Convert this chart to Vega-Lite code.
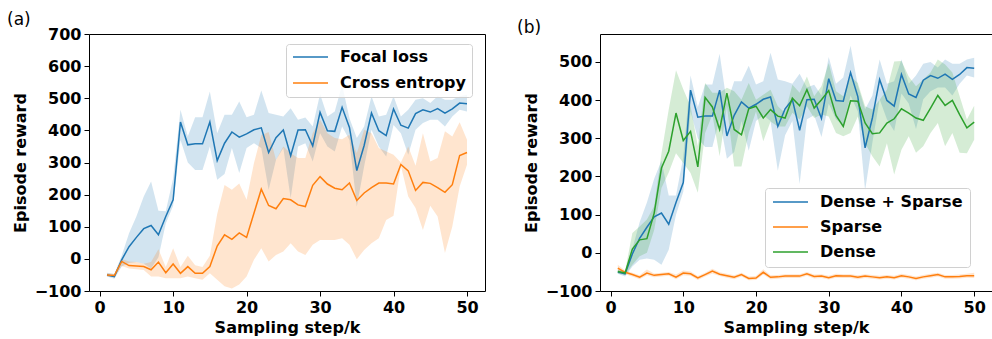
{
  "$schema": "https://vega.github.io/schema/vega-lite/v6.json",
  "autosize": {"type": "pad"},
  "padding": {"left": 6, "top": 10, "right": 0, "bottom": 5},
  "bounds": "flush",
  "spacing": 115,
  "background": "white",
  "datasets": {
    "a": [
      {"s":"Focal loss","x":1,"y":-50,"lo":-55,"hi":-43},{"s":"Focal loss","x":2,"y":-55,"lo":-62,"hi":-47},{"s":"Focal loss","x":3,"y":-3,"lo":-24,"hi":10},{"s":"Focal loss","x":4,"y":38,"lo":-13,"hi":80},{"s":"Focal loss","x":5,"y":67,"lo":-10,"hi":132},{"s":"Focal loss","x":6,"y":94,"lo":-15,"hi":194},{"s":"Focal loss","x":7,"y":104,"lo":-30,"hi":241},{"s":"Focal loss","x":8,"y":75,"lo":5,"hi":150},{"s":"Focal loss","x":9,"y":132,"lo":110,"hi":148},{"s":"Focal loss","x":10,"y":184,"lo":165,"hi":250},
      {"s":"Focal loss","x":11,"y":426,"lo":370,"hi":464},{"s":"Focal loss","x":12,"y":355,"lo":300,"hi":381},{"s":"Focal loss","x":13,"y":358,"lo":277,"hi":441},{"s":"Focal loss","x":14,"y":358,"lo":277,"hi":441},{"s":"Focal loss","x":15,"y":426,"lo":350,"hi":521},{"s":"Focal loss","x":16,"y":306,"lo":246,"hi":391},{"s":"Focal loss","x":17,"y":360,"lo":264,"hi":449},{"s":"Focal loss","x":18,"y":395,"lo":345,"hi":449},{"s":"Focal loss","x":19,"y":379,"lo":267,"hi":490},{"s":"Focal loss","x":20,"y":389,"lo":345,"hi":441},
      {"s":"Focal loss","x":21,"y":402,"lo":360,"hi":449},{"s":"Focal loss","x":22,"y":408,"lo":345,"hi":524},{"s":"Focal loss","x":23,"y":331,"lo":215,"hi":454},{"s":"Focal loss","x":24,"y":377,"lo":308,"hi":449},{"s":"Focal loss","x":25,"y":401,"lo":345,"hi":443},{"s":"Focal loss","x":26,"y":321,"lo":189,"hi":469},{"s":"Focal loss","x":27,"y":401,"lo":350,"hi":433},{"s":"Focal loss","x":28,"y":402,"lo":360,"hi":440},{"s":"Focal loss","x":29,"y":352,"lo":303,"hi":412},{"s":"Focal loss","x":30,"y":456,"lo":391,"hi":513},
      {"s":"Focal loss","x":31,"y":399,"lo":350,"hi":443},{"s":"Focal loss","x":32,"y":397,"lo":334,"hi":459},{"s":"Focal loss","x":33,"y":472,"lo":412,"hi":542},{"s":"Focal loss","x":34,"y":409,"lo":370,"hi":438},{"s":"Focal loss","x":35,"y":275,"lo":163,"hi":376},{"s":"Focal loss","x":36,"y":353,"lo":288,"hi":412},{"s":"Focal loss","x":37,"y":454,"lo":402,"hi":506},{"s":"Focal loss","x":38,"y":399,"lo":350,"hi":443},{"s":"Focal loss","x":39,"y":384,"lo":319,"hi":449},{"s":"Focal loss","x":40,"y":467,"lo":417,"hi":506},
      {"s":"Focal loss","x":41,"y":416,"lo":391,"hi":443},{"s":"Focal loss","x":42,"y":407,"lo":324,"hi":464},{"s":"Focal loss","x":43,"y":452,"lo":402,"hi":495},{"s":"Focal loss","x":44,"y":464,"lo":423,"hi":500},{"s":"Focal loss","x":45,"y":457,"lo":433,"hi":485},{"s":"Focal loss","x":46,"y":468,"lo":433,"hi":506},{"s":"Focal loss","x":47,"y":454,"lo":412,"hi":495},{"s":"Focal loss","x":48,"y":467,"lo":443,"hi":495},{"s":"Focal loss","x":49,"y":485,"lo":464,"hi":506},{"s":"Focal loss","x":50,"y":483,"lo":459,"hi":511},
      {"s":"Cross entropy","x":1,"y":-50,"lo":-55,"hi":-45},{"s":"Cross entropy","x":2,"y":-52,"lo":-57,"hi":-47},{"s":"Cross entropy","x":3,"y":-8,"lo":-22,"hi":0},{"s":"Cross entropy","x":4,"y":-21,"lo":-30,"hi":-8},{"s":"Cross entropy","x":5,"y":-22,"lo":-32,"hi":-10},{"s":"Cross entropy","x":6,"y":-24,"lo":-35,"hi":-15},{"s":"Cross entropy","x":7,"y":-34,"lo":-55,"hi":-10},{"s":"Cross entropy","x":8,"y":-10,"lo":-55,"hi":30},{"s":"Cross entropy","x":9,"y":-43,"lo":-60,"hi":-25},{"s":"Cross entropy","x":10,"y":-16,"lo":-60,"hi":33},
      {"s":"Cross entropy","x":11,"y":-45,"lo":-60,"hi":-25},{"s":"Cross entropy","x":12,"y":-24,"lo":-55,"hi":10},{"s":"Cross entropy","x":13,"y":-45,"lo":-60,"hi":-20},{"s":"Cross entropy","x":14,"y":-45,"lo":-65,"hi":-25},{"s":"Cross entropy","x":15,"y":-24,"lo":-45,"hi":10},{"s":"Cross entropy","x":16,"y":40,"lo":-65,"hi":140},{"s":"Cross entropy","x":17,"y":75,"lo":-85,"hi":230},{"s":"Cross entropy","x":18,"y":61,"lo":-92,"hi":215},{"s":"Cross entropy","x":19,"y":81,"lo":-80,"hi":235},{"s":"Cross entropy","x":20,"y":67,"lo":-55,"hi":184},
      {"s":"Cross entropy","x":21,"y":142,"lo":-3,"hi":298},{"s":"Cross entropy","x":22,"y":217,"lo":33,"hi":385},{"s":"Cross entropy","x":23,"y":166,"lo":-8,"hi":395},{"s":"Cross entropy","x":24,"y":156,"lo":12,"hi":308},{"s":"Cross entropy","x":25,"y":188,"lo":23,"hi":350},{"s":"Cross entropy","x":26,"y":184,"lo":49,"hi":329},{"s":"Cross entropy","x":27,"y":168,"lo":23,"hi":314},{"s":"Cross entropy","x":28,"y":163,"lo":12,"hi":314},{"s":"Cross entropy","x":29,"y":229,"lo":44,"hi":391},{"s":"Cross entropy","x":30,"y":256,"lo":59,"hi":433},
      {"s":"Cross entropy","x":31,"y":233,"lo":59,"hi":391},{"s":"Cross entropy","x":32,"y":220,"lo":59,"hi":376},{"s":"Cross entropy","x":33,"y":215,"lo":64,"hi":372},{"s":"Cross entropy","x":34,"y":236,"lo":44,"hi":386},{"s":"Cross entropy","x":35,"y":182,"lo":-1,"hi":329},{"s":"Cross entropy","x":36,"y":205,"lo":28,"hi":402},{"s":"Cross entropy","x":37,"y":222,"lo":49,"hi":391},{"s":"Cross entropy","x":38,"y":236,"lo":64,"hi":345},{"s":"Cross entropy","x":39,"y":236,"lo":121,"hi":334},{"s":"Cross entropy","x":40,"y":233,"lo":134,"hi":324},
      {"s":"Cross entropy","x":41,"y":294,"lo":290,"hi":300},{"s":"Cross entropy","x":42,"y":274,"lo":194,"hi":350},{"s":"Cross entropy","x":43,"y":213,"lo":158,"hi":290},{"s":"Cross entropy","x":44,"y":238,"lo":90,"hi":391},{"s":"Cross entropy","x":45,"y":235,"lo":165,"hi":303},{"s":"Cross entropy","x":46,"y":222,"lo":132,"hi":314},{"s":"Cross entropy","x":47,"y":207,"lo":18,"hi":397},{"s":"Cross entropy","x":48,"y":231,"lo":101,"hi":381},{"s":"Cross entropy","x":49,"y":322,"lo":225,"hi":425},{"s":"Cross entropy","x":50,"y":331,"lo":293,"hi":371}
    ],
    "b": [
      {"s":"Dense + Sparse","x":1,"y":-50,"lo":-55,"hi":-43},{"s":"Dense + Sparse","x":2,"y":-55,"lo":-62,"hi":-47},{"s":"Dense + Sparse","x":3,"y":-3,"lo":-36,"hi":10},{"s":"Dense + Sparse","x":4,"y":38,"lo":-18,"hi":80},{"s":"Dense + Sparse","x":5,"y":67,"lo":-15,"hi":132},{"s":"Dense + Sparse","x":6,"y":94,"lo":-18,"hi":194},{"s":"Dense + Sparse","x":7,"y":104,"lo":-31,"hi":241},{"s":"Dense + Sparse","x":8,"y":75,"lo":8,"hi":150},{"s":"Dense + Sparse","x":9,"y":132,"lo":100,"hi":150},{"s":"Dense + Sparse","x":10,"y":184,"lo":160,"hi":250},
      {"s":"Dense + Sparse","x":11,"y":426,"lo":370,"hi":464},{"s":"Dense + Sparse","x":12,"y":355,"lo":300,"hi":381},{"s":"Dense + Sparse","x":13,"y":358,"lo":277,"hi":441},{"s":"Dense + Sparse","x":14,"y":358,"lo":277,"hi":441},{"s":"Dense + Sparse","x":15,"y":426,"lo":350,"hi":521},{"s":"Dense + Sparse","x":16,"y":306,"lo":246,"hi":391},{"s":"Dense + Sparse","x":17,"y":360,"lo":264,"hi":449},{"s":"Dense + Sparse","x":18,"y":395,"lo":345,"hi":449},{"s":"Dense + Sparse","x":19,"y":379,"lo":267,"hi":490},{"s":"Dense + Sparse","x":20,"y":389,"lo":345,"hi":441},
      {"s":"Dense + Sparse","x":21,"y":402,"lo":360,"hi":449},{"s":"Dense + Sparse","x":22,"y":408,"lo":345,"hi":524},{"s":"Dense + Sparse","x":23,"y":331,"lo":215,"hi":454},{"s":"Dense + Sparse","x":24,"y":377,"lo":308,"hi":449},{"s":"Dense + Sparse","x":25,"y":401,"lo":345,"hi":443},{"s":"Dense + Sparse","x":26,"y":321,"lo":180,"hi":469},{"s":"Dense + Sparse","x":27,"y":401,"lo":350,"hi":433},{"s":"Dense + Sparse","x":28,"y":402,"lo":360,"hi":440},{"s":"Dense + Sparse","x":29,"y":352,"lo":303,"hi":412},{"s":"Dense + Sparse","x":30,"y":456,"lo":391,"hi":513},
      {"s":"Dense + Sparse","x":31,"y":399,"lo":350,"hi":443},{"s":"Dense + Sparse","x":32,"y":397,"lo":334,"hi":459},{"s":"Dense + Sparse","x":33,"y":472,"lo":412,"hi":542},{"s":"Dense + Sparse","x":34,"y":409,"lo":370,"hi":438},{"s":"Dense + Sparse","x":35,"y":275,"lo":163,"hi":376},{"s":"Dense + Sparse","x":36,"y":353,"lo":288,"hi":412},{"s":"Dense + Sparse","x":37,"y":454,"lo":402,"hi":506},{"s":"Dense + Sparse","x":38,"y":399,"lo":350,"hi":443},{"s":"Dense + Sparse","x":39,"y":384,"lo":319,"hi":449},{"s":"Dense + Sparse","x":40,"y":467,"lo":417,"hi":506},
      {"s":"Dense + Sparse","x":41,"y":416,"lo":391,"hi":443},{"s":"Dense + Sparse","x":42,"y":407,"lo":324,"hi":464},{"s":"Dense + Sparse","x":43,"y":452,"lo":402,"hi":495},{"s":"Dense + Sparse","x":44,"y":464,"lo":423,"hi":500},{"s":"Dense + Sparse","x":45,"y":457,"lo":433,"hi":485},{"s":"Dense + Sparse","x":46,"y":468,"lo":433,"hi":506},{"s":"Dense + Sparse","x":47,"y":454,"lo":412,"hi":495},{"s":"Dense + Sparse","x":48,"y":467,"lo":443,"hi":495},{"s":"Dense + Sparse","x":49,"y":485,"lo":464,"hi":506},{"s":"Dense + Sparse","x":50,"y":483,"lo":459,"hi":511},
      {"s":"Sparse","x":1,"y":-40,"lo":-47,"hi":-31},{"s":"Sparse","x":2,"y":-51,"lo":-56,"hi":-46},{"s":"Sparse","x":3,"y":-57,"lo":-62,"hi":-52},{"s":"Sparse","x":4,"y":-64,"lo":-69,"hi":-59},{"s":"Sparse","x":5,"y":-53,"lo":-59,"hi":-44},{"s":"Sparse","x":6,"y":-59,"lo":-64,"hi":-54},{"s":"Sparse","x":7,"y":-57,"lo":-62,"hi":-52},{"s":"Sparse","x":8,"y":-55,"lo":-60,"hi":-50},{"s":"Sparse","x":9,"y":-64,"lo":-69,"hi":-57},{"s":"Sparse","x":10,"y":-53,"lo":-59,"hi":-46},
      {"s":"Sparse","x":11,"y":-55,"lo":-60,"hi":-49},{"s":"Sparse","x":12,"y":-66,"lo":-71,"hi":-61},{"s":"Sparse","x":13,"y":-57,"lo":-62,"hi":-52},{"s":"Sparse","x":14,"y":-48,"lo":-54,"hi":-42},{"s":"Sparse","x":15,"y":-56,"lo":-61,"hi":-51},{"s":"Sparse","x":16,"y":-60,"lo":-65,"hi":-55},{"s":"Sparse","x":17,"y":-64,"lo":-69,"hi":-59},{"s":"Sparse","x":18,"y":-57,"lo":-62,"hi":-52},{"s":"Sparse","x":19,"y":-67,"lo":-72,"hi":-62},{"s":"Sparse","x":20,"y":-66,"lo":-71,"hi":-61},
      {"s":"Sparse","x":21,"y":-51,"lo":-57,"hi":-43},{"s":"Sparse","x":22,"y":-64,"lo":-69,"hi":-59},{"s":"Sparse","x":23,"y":-63,"lo":-68,"hi":-58},{"s":"Sparse","x":24,"y":-61,"lo":-66,"hi":-56},{"s":"Sparse","x":25,"y":-61,"lo":-66,"hi":-56},{"s":"Sparse","x":26,"y":-61,"lo":-66,"hi":-56},{"s":"Sparse","x":27,"y":-55,"lo":-60,"hi":-50},{"s":"Sparse","x":28,"y":-62,"lo":-67,"hi":-57},{"s":"Sparse","x":29,"y":-61,"lo":-66,"hi":-56},{"s":"Sparse","x":30,"y":-65,"lo":-70,"hi":-60},
      {"s":"Sparse","x":31,"y":-60,"lo":-65,"hi":-55},{"s":"Sparse","x":32,"y":-61,"lo":-66,"hi":-56},{"s":"Sparse","x":33,"y":-61,"lo":-66,"hi":-56},{"s":"Sparse","x":34,"y":-64,"lo":-69,"hi":-59},{"s":"Sparse","x":35,"y":-61,"lo":-66,"hi":-56},{"s":"Sparse","x":36,"y":-63,"lo":-68,"hi":-58},{"s":"Sparse","x":37,"y":-65,"lo":-70,"hi":-60},{"s":"Sparse","x":38,"y":-63,"lo":-68,"hi":-58},{"s":"Sparse","x":39,"y":-65,"lo":-70,"hi":-60},{"s":"Sparse","x":40,"y":-60,"lo":-65,"hi":-55},
      {"s":"Sparse","x":41,"y":-63,"lo":-68,"hi":-58},{"s":"Sparse","x":42,"y":-67,"lo":-72,"hi":-62},{"s":"Sparse","x":43,"y":-63,"lo":-68,"hi":-58},{"s":"Sparse","x":44,"y":-60,"lo":-65,"hi":-55},{"s":"Sparse","x":45,"y":-57,"lo":-62,"hi":-52},{"s":"Sparse","x":46,"y":-63,"lo":-68,"hi":-58},{"s":"Sparse","x":47,"y":-63,"lo":-68,"hi":-58},{"s":"Sparse","x":48,"y":-62,"lo":-67,"hi":-57},{"s":"Sparse","x":49,"y":-60,"lo":-65,"hi":-55},{"s":"Sparse","x":50,"y":-60,"lo":-66,"hi":-52},
      {"s":"Dense","x":1,"y":-49,"lo":-55,"hi":-45},{"s":"Dense","x":2,"y":-53,"lo":-58,"hi":-48},{"s":"Dense","x":3,"y":10,"lo":-31,"hi":52},{"s":"Dense","x":4,"y":34,"lo":-9,"hi":69},{"s":"Dense","x":5,"y":37,"lo":0,"hi":87},{"s":"Dense","x":6,"y":104,"lo":60,"hi":122},{"s":"Dense","x":7,"y":222,"lo":170,"hi":260},{"s":"Dense","x":8,"y":266,"lo":210,"hi":375},{"s":"Dense","x":9,"y":366,"lo":261,"hi":478},{"s":"Dense","x":10,"y":294,"lo":235,"hi":428},
      {"s":"Dense","x":11,"y":318,"lo":209,"hi":384},{"s":"Dense","x":12,"y":225,"lo":157,"hi":279},{"s":"Dense","x":13,"y":407,"lo":314,"hi":445},{"s":"Dense","x":14,"y":382,"lo":362,"hi":419},{"s":"Dense","x":15,"y":323,"lo":253,"hi":419},{"s":"Dense","x":16,"y":418,"lo":384,"hi":432},{"s":"Dense","x":17,"y":323,"lo":226,"hi":423},{"s":"Dense","x":18,"y":309,"lo":226,"hi":401},{"s":"Dense","x":19,"y":377,"lo":314,"hi":445},{"s":"Dense","x":20,"y":384,"lo":370,"hi":401},
      {"s":"Dense","x":21,"y":353,"lo":292,"hi":414},{"s":"Dense","x":22,"y":375,"lo":344,"hi":427},{"s":"Dense","x":23,"y":358,"lo":331,"hi":384},{"s":"Dense","x":24,"y":353,"lo":331,"hi":366},{"s":"Dense","x":25,"y":405,"lo":367,"hi":440},{"s":"Dense","x":26,"y":385,"lo":349,"hi":419},{"s":"Dense","x":27,"y":427,"lo":384,"hi":462},{"s":"Dense","x":28,"y":379,"lo":353,"hi":410},{"s":"Dense","x":29,"y":401,"lo":362,"hi":436},{"s":"Dense","x":30,"y":425,"lo":357,"hi":497},
      {"s":"Dense","x":31,"y":360,"lo":314,"hi":423},{"s":"Dense","x":32,"y":331,"lo":305,"hi":410},{"s":"Dense","x":33,"y":398,"lo":314,"hi":462},{"s":"Dense","x":34,"y":397,"lo":357,"hi":445},{"s":"Dense","x":35,"y":340,"lo":287,"hi":384},{"s":"Dense","x":36,"y":312,"lo":253,"hi":375},{"s":"Dense","x":37,"y":314,"lo":226,"hi":401},{"s":"Dense","x":38,"y":340,"lo":287,"hi":427},{"s":"Dense","x":39,"y":351,"lo":205,"hi":501},{"s":"Dense","x":40,"y":377,"lo":270,"hi":502},
      {"s":"Dense","x":41,"y":366,"lo":305,"hi":462},{"s":"Dense","x":42,"y":353,"lo":262,"hi":436},{"s":"Dense","x":43,"y":347,"lo":279,"hi":454},{"s":"Dense","x":44,"y":379,"lo":314,"hi":472},{"s":"Dense","x":45,"y":412,"lo":340,"hi":506},{"s":"Dense","x":46,"y":386,"lo":279,"hi":493},{"s":"Dense","x":47,"y":399,"lo":314,"hi":472},{"s":"Dense","x":48,"y":362,"lo":262,"hi":410},{"s":"Dense","x":49,"y":327,"lo":261,"hi":349},{"s":"Dense","x":50,"y":342,"lo":296,"hi":385}
    ]
  },
  "config": {
    "font": "DejaVu Sans",
    "view": {"stroke": "black", "strokeWidth": 1},
    "axis": {"domain": false, "grid": false, "tickColor": "black", "tickSize": 5, "tickWidth": 1, "labelFont": "DejaVu Sans", "labelFontSize": 16, "labelFontWeight": "bold", "labelColor": "black", "labelPadding": 3, "labelFlush": false, "labelOverlap": false, "labelSeparation": 0, "titleFont": "DejaVu Sans", "titleFontSize": 16, "titleFontWeight": "bold", "titleColor": "black"},
    "axisX": {"titlePadding": 4},
    "axisY": {"titlePadding": 6},
    "legend": {"symbolType": "stroke", "symbolSize": 1225, "symbolStrokeWidth": 1.5, "symbolOpacity": 1, "clipHeight": 14, "labelFont": "DejaVu Sans", "labelFontSize": 16, "labelFontWeight": "bold", "labelColor": "black", "labelOffset": 11, "labelLimit": 400, "strokeColor": "#d0d0d0", "fillColor": "rgba(255,255,255,0.8)", "cornerRadius": 3},
    "title": {"font": "DejaVu Sans", "fontSize": 17, "fontWeight": "normal", "color": "black", "anchor": "start", "frame": "group", "offset": -3}
  },
  "resolve": {"scale": {"color": "independent", "x": "independent", "y": "independent"}},
  "hconcat": [
    {
      "width": 396, "height": 257,
      "title": {"text": "(a)", "dx": -82},
      "data": {"name": "a"},
      "encoding": {
        "x": {"field": "x", "type": "quantitative", "title": "Sampling step/k", "scale": {"domain": [-1.45, 52.45], "nice": false, "zero": false}, "axis": {"values": [0, 10, 20, 30, 40, 50], "labelOverlap": false}},
        "color": {"field": "s", "type": "nominal", "scale": {"domain": ["Focal loss", "Cross entropy"], "range": ["#1f77b4", "#ff7f0e"]}, "legend": {"title": null, "orient": "none", "legendX": 197, "legendY": 10, "padding": 6, "rowPadding": 10, "encode": {"symbols": {"update": {"opacity": {"value": 1}}}}}}
      },
      "layer": [
        {
          "mark": {"type": "area", "opacity": 0.2},
          "encoding": {
            "y": {"field": "lo", "type": "quantitative", "title": "Episode reward", "scale": {"domain": [-100, 700], "nice": false}, "axis": {"values": [-100, 0, 100, 200, 300, 400, 500, 600, 700], "labelOverlap": false, "tickCount": 9}},
            "y2": {"field": "hi"}
          }
        },
        {
          "mark": {"type": "line", "strokeWidth": 1.5},
          "encoding": {
            "y": {"field": "y", "type": "quantitative", "title": "Episode reward", "axis": {"values": [-100, 0, 100, 200, 300, 400, 500, 600, 700], "labelOverlap": false, "tickCount": 9}}
          }
        }
      ]
    },
    {
      "width": 392, "height": 257,
      "title": {"text": "(b)", "dx": -83},
      "data": {"name": "b"},
      "encoding": {
        "x": {"field": "x", "type": "quantitative", "title": "Sampling step/k", "scale": {"domain": [-1.45, 52.45], "nice": false, "zero": false}, "axis": {"values": [0, 10, 20, 30, 40, 50], "labelOverlap": false}},
        "color": {"field": "s", "type": "nominal", "scale": {"domain": ["Dense + Sparse", "Sparse", "Dense"], "range": ["#1f77b4", "#ff7f0e", "#2ca02c"]}, "legend": {"title": null, "orient": "none", "legendX": 165, "legendY": 154, "padding": 7, "rowPadding": 9, "encode": {"symbols": {"update": {"opacity": {"value": 1}}}}}}
      },
      "layer": [
        {
          "mark": {"type": "area", "opacity": 0.2},
          "encoding": {
            "y": {"field": "lo", "type": "quantitative", "title": "Episode reward", "scale": {"domain": [-100, 573], "nice": false}, "axis": {"values": [-100, 0, 100, 200, 300, 400, 500], "labelOverlap": false}},
            "y2": {"field": "hi"}
          }
        },
        {
          "mark": {"type": "line", "strokeWidth": 1.5},
          "encoding": {
            "y": {"field": "y", "type": "quantitative", "title": "Episode reward", "axis": {"values": [-100, 0, 100, 200, 300, 400, 500], "labelOverlap": false}}
          }
        }
      ]
    }
  ]
}
